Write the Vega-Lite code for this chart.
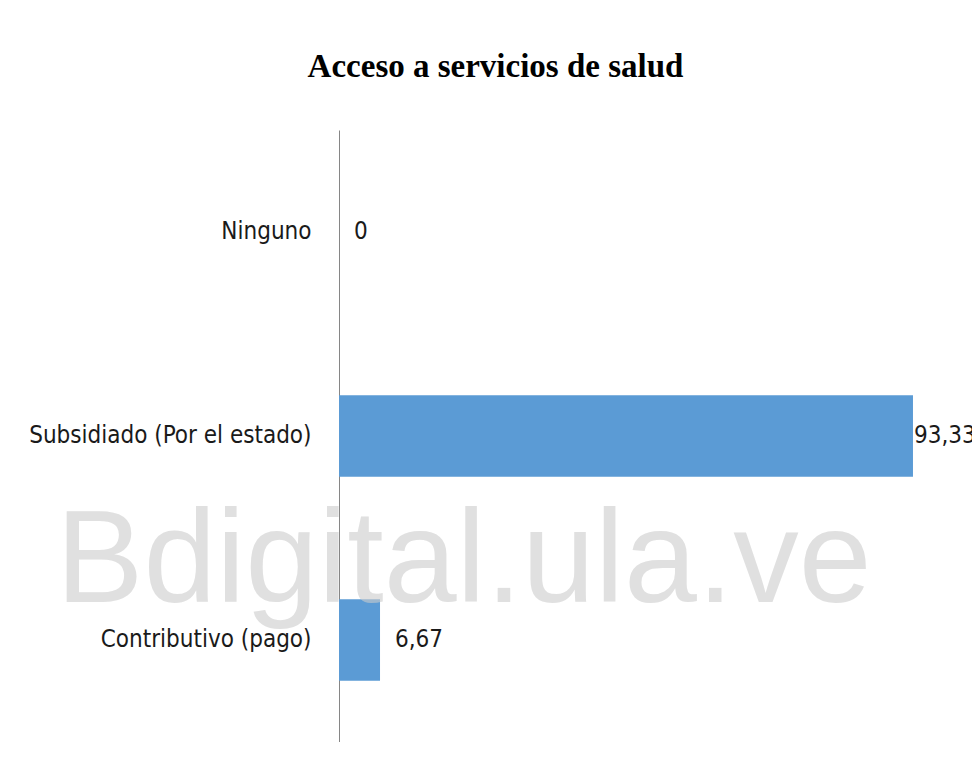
{
  "$schema": "https://vega.github.io/schema/vega-lite/v6.json",
  "autosize": {"type": "none"},
  "padding": {"left": 339, "top": 130, "right": 18, "bottom": 0},
  "width": 615,
  "height": 612,
  "background": "white",
  "title": {
    "text": "Acceso a servicios de salud",
    "font": "Liberation Serif",
    "fontWeight": "bold",
    "fontSize": 33,
    "color": "#000000",
    "anchor": "middle",
    "frame": "group",
    "dx": -151,
    "offset": 46
  },
  "data": {
    "values": [
      {"categoria": "Ninguno", "valor": 0, "etiqueta": "0"},
      {"categoria": "Subsidiado (Por el estado)", "valor": 93.33, "etiqueta": "93,33"},
      {"categoria": "Contributivo (pago)", "valor": 6.67, "etiqueta": "6,67"}
    ]
  },
  "encoding": {
    "y": {
      "field": "categoria",
      "type": "nominal",
      "sort": ["Ninguno", "Subsidiado (Por el estado)", "Contributivo (pago)"],
      "scale": {"paddingInner": 0.6, "paddingOuter": 0.3},
      "axis": {
        "title": null,
        "ticks": false,
        "domainColor": "#868686",
        "domainWidth": 1,
        "labelFont": "Liberation Sans Narrow, DejaVu Sans Condensed, Noto Sans",
        "labelFontSize": 24,
        "labelColor": "#1a1a1a",
        "labelPadding": 28,
        "labelLimit": 400,
        "grid": false
      }
    }
  },
  "layer": [
    {
      "mark": {"type": "bar", "color": "#5b9bd5"},
      "encoding": {
        "x": {"field": "valor", "type": "quantitative", "scale": {"domain": [0, 100], "nice": false}, "axis": null}
      }
    },
    {
      "transform": [{"filter": "datum.valor < 50"}],
      "mark": {"type": "text", "align": "left", "baseline": "middle", "dx": 15, "font": "Liberation Sans Narrow, DejaVu Sans Condensed, Noto Sans", "fontSize": 24, "color": "#1a1a1a"},
      "encoding": {
        "x": {"field": "valor", "type": "quantitative"},
        "text": {"field": "etiqueta"}
      }
    },
    {
      "transform": [{"filter": "datum.valor >= 50"}],
      "mark": {"type": "text", "align": "left", "baseline": "middle", "dx": 1, "font": "Liberation Sans Narrow, DejaVu Sans Condensed, Noto Sans", "fontSize": 24, "color": "#1a1a1a"},
      "encoding": {
        "x": {"field": "valor", "type": "quantitative"},
        "text": {"field": "etiqueta"}
      }
    },
    {
      "data": {"values": [{"marca": "Bdigital.ula.ve", "posicion": 20.3, "categoria": "Contributivo (pago)"}]},
      "mark": {"type": "text", "align": "center", "baseline": "alphabetic", "dy": -38, "font": "Liberation Sans", "fontSize": 131, "color": "#cccccc", "opacity": 0.6},
      "encoding": {
        "x": {"field": "posicion", "type": "quantitative"},
        "y": {"field": "categoria", "type": "nominal", "sort": ["Ninguno", "Subsidiado (Por el estado)", "Contributivo (pago)"]},
        "text": {"field": "marca"}
      }
    }
  ],
  "config": {"view": {"stroke": null}}
}
